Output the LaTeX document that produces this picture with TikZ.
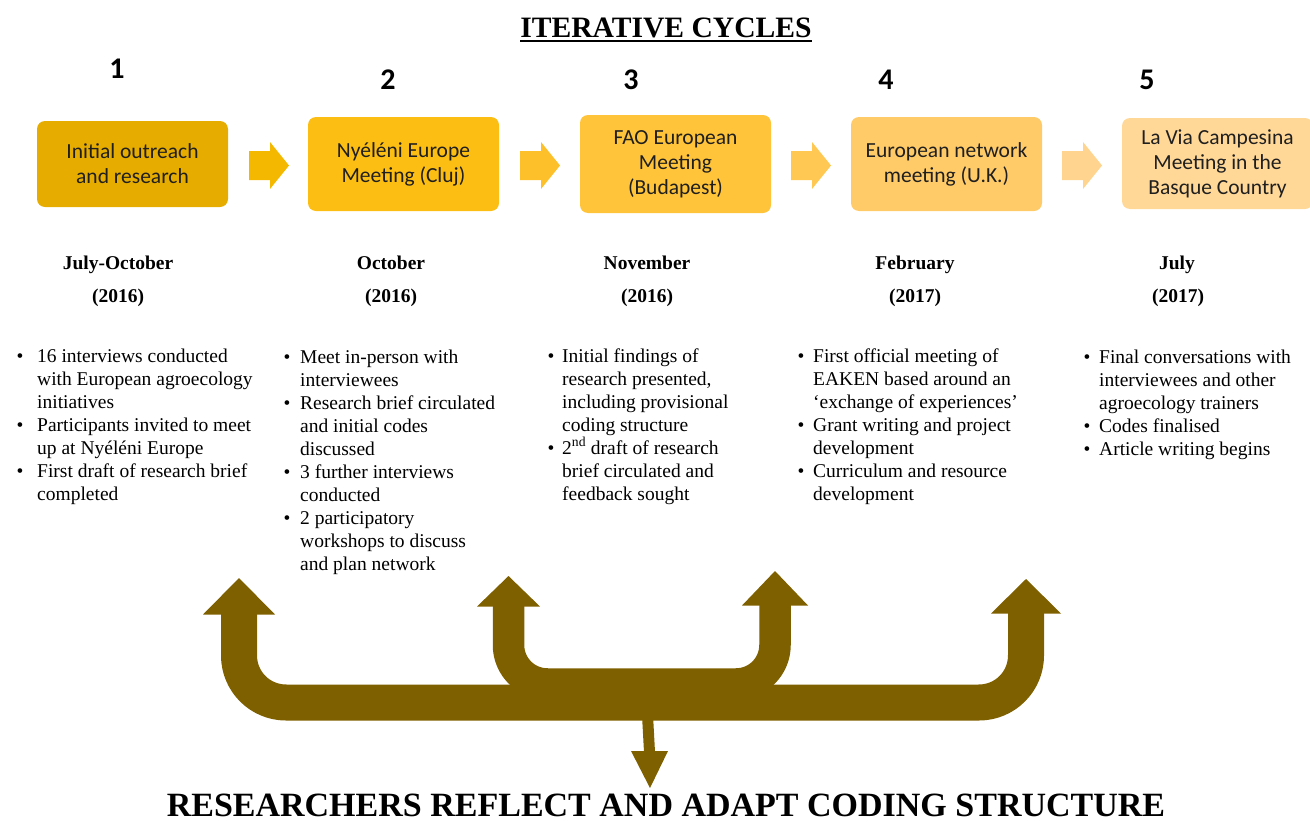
\documentclass[tikz,border=0pt]{standalone}
\usepackage{fontspec}
\setmainfont{Liberation Serif}
\newfontfamily\calibri{Carlito}
\definecolor{bx1}{HTML}{E6AC00}
\definecolor{bx2}{HTML}{FDBE14}
\definecolor{bx3}{HTML}{FFC43A}
\definecolor{bx4}{HTML}{FFCB68}
\definecolor{bx5}{HTML}{FFD898}
\definecolor{ar1}{HTML}{F4B800}
\definecolor{ar2}{HTML}{FEC02A}
\definecolor{ar3}{HTML}{FFC852}
\definecolor{ar4}{HTML}{FFD48E}
\definecolor{brn}{HTML}{7F6000}
\newcommand\bul[1]{\makebox[#1][l]{•}}
\newcommand\ind[1]{\hspace*{#1}}
\begin{document}
\begin{tikzpicture}[x=1pt,y=-1pt,
  box/.style={rounded corners=8pt, minimum width=191pt, inner sep=0pt, align=center,
    font=\calibri\fontsize{21.5}{25}\selectfont, text=black!88},
  num/.style={font=\calibri\bfseries\fontsize{30}{30}\selectfont, anchor=base, inner sep=0pt},
  datelab/.style={font=\bfseries\fontsize{19.5}{23}\selectfont, anchor=base, inner sep=0pt},
  blist/.style={anchor=base west, inner sep=0pt, align=left, font=\fontsize{19.5}{23}\selectfont},
  shaft/.style={draw=brn, line cap=butt, line join=round}]
\useasboundingbox (0,0) rectangle (1310,822);

% title
\node[font=\bfseries\fontsize{29.6}{30}\selectfont, anchor=base, inner sep=0pt] (title) at (666,37) {ITERATIVE CYCLES};
\draw[line width=2.5pt] ([yshift=-4pt]title.base west) -- ([yshift=-4pt]title.base east);

% numbers
\node[num] (n1) at (117,78.5) {1};
\node[num] (n2) at (388,89.5) {2};
\node[num] (n3) at (631,89.5) {3};
\node[num] (n4) at (886,89.5) {4};
\node[num] (n5) at (1147,89.5) {5};

% boxes
\node[box, fill=bx1, minimum height=86pt] (b1) at (132.5,164) {Initial outreach\\and research};
\node[box, fill=bx2, minimum height=94pt] (b2) at (403.5,164) {Nyéléni Europe\\Meeting (Cluj)};
\node[box, fill=bx3, minimum height=98pt] (b3) at (675.5,164) {FAO European\\Meeting\\(Budapest)};
\node[box, fill=bx4, minimum height=94pt] (b4) at (946.5,164) {European network\\meeting (U.K.)};
\node[box, fill=bx5, minimum height=91pt] (b5) at (1217.5,163.5) {La Via Campesina\\Meeting in the\\Basque Country};

% chevrons
\foreach \x/\c in {249/ar1, 520/ar2, 791/ar3, 1062/ar4}
  \fill[\c] (\x,151) -- (\x+21,151) -- (\x+21,142) -- (\x+40,165.5) -- (\x+21,189) -- (\x+21,180) -- (\x,180) -- cycle;

% dates
\node[datelab] (d1) at (118,269) {July-October};
\node[datelab] (y1) at (118,302.5) {(2016)};
\node[datelab] (d2) at (391,269) {October};
\node[datelab] (y2) at (391,302.5) {(2016)};
\node[datelab] (d3) at (647,269) {November};
\node[datelab] (y3) at (647,302.5) {(2016)};
\node[datelab] (d4) at (915,269) {February};
\node[datelab] (y4) at (915,302.5) {(2017)};
\node[datelab] (d5) at (1177,269) {July};
\node[datelab] (y5) at (1178,302.5) {(2017)};

% bullet lists (base anchor = baseline of last line)
\node[blist] (l1) at (16.5,500.5) {%
\bul{20.5pt}16 interviews conducted\\
\ind{20.5pt}with European agroecology\\
\ind{20.5pt}initiatives\\
\bul{20.5pt}Participants invited to meet\\
\ind{20.5pt}up at Nyéléni Europe\\
\bul{20.5pt}First draft of research brief\\
\ind{20.5pt}completed};

\node[blist] (l2) at (283.5,570.5) {%
\bul{16.5pt}Meet in-person with\\
\ind{16.5pt}interviewees\\
\bul{16.5pt}Research brief circulated\\
\ind{16.5pt}and initial codes\\
\ind{16.5pt}discussed\\
\bul{16.5pt}3 further interviews\\
\ind{16.5pt}conducted\\
\bul{16.5pt}2 participatory\\
\ind{16.5pt}workshops to discuss\\
\ind{16.5pt}and plan network};

\node[blist] (l3) at (547.5,500.5) {%
\bul{14.5pt}Initial findings of\\
\ind{14.5pt}research presented,\\
\ind{14.5pt}including provisional\\
\ind{14.5pt}coding structure\\
\bul{14.5pt}2\textsuperscript{nd} draft of research\\
\ind{14.5pt}brief circulated and\\
\ind{14.5pt}feedback sought};

\node[blist] (l4) at (797.5,500.5) {%
\bul{15.5pt}First official meeting of\\
\ind{15.5pt}EAKEN based around an\\
\ind{15.5pt}‘exchange of experiences’\\
\bul{15.5pt}Grant writing and project\\
\ind{15.5pt}development\\
\bul{15.5pt}Curriculum and resource\\
\ind{15.5pt}development};

\node[blist] (l5) at (1083.5,455.5) {%
\bul{15.5pt}Final conversations with\\
\ind{15.5pt}interviewees and other\\
\ind{15.5pt}agroecology trainers\\
\bul{15.5pt}Codes finalised\\
\bul{15.5pt}Article writing begins};

% feedback arrows
\coordinate (u1) at (239,578);
\coordinate (u2) at (508.5,576);
\coordinate (u3) at (775,571);
\coordinate (u4) at (1026,579);
\draw[shaft, line width=36pt, rounded corners=47pt] (239,613) -- (239,702.5) -- (1026,702.5) -- (1026,612);
\draw[shaft, line width=31.5pt, rounded corners=39pt] (508.5,605) -- (508.5,684) -- (775,684) -- (775,604);
\fill[brn] (203,614.5) -- (u1) -- (275,614.5) -- cycle;
\fill[brn] (477,606.5) -- (u2) -- (540,606.5) -- cycle;
\fill[brn] (742,605.5) -- (u3) -- (808,605.5) -- cycle;
\fill[brn] (991,613.5) -- (u4) -- (1061,613.5) -- cycle;
\coordinate (dtip) at (650,788);
\draw[shaft, line width=11pt] (647.5,715) -- (649.5,752);
\fill[brn] (631,751) -- (668,751) -- (dtip) -- cycle;

% bottom text
\node[font=\bfseries\fontsize{34}{34}\selectfont, anchor=base, inner sep=0pt] (bottom) at (666,816.5) {RESEARCHERS REFLECT AND ADAPT CODING STRUCTURE};
\end{tikzpicture}
\end{document}
